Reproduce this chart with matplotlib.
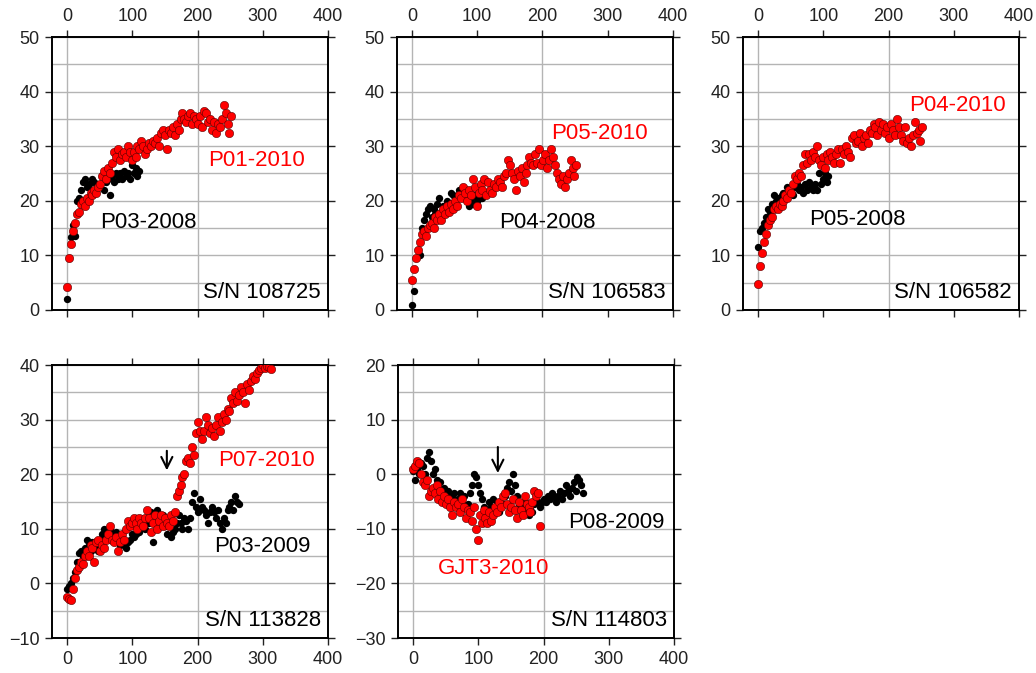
import numpy as np
import matplotlib.pyplot as plt
from matplotlib.ticker import MultipleLocator

plt.rcParams['font.family'] = ['Liberation Sans', 'DejaVu Sans']

# ---- S/N 108725 -------------------------------------------------------
p03_2008_day = np.arange(0, 112, 3)
p03_2008 = [2.0, 9.5, 13.3, 15.5, 13.5, 20.0, 20.5, 22.0, 23.5, 24.0,
            22.5, 23.0, 22.0, 24.0, 23.5, 21.5, 22.5, 23.0, 24.5, 22.0,
            23.5, 24.0, 21.0, 24.5, 23.5, 25.0, 24.0, 25.0, 24.0, 25.5,
            24.5, 25.0, 24.0, 26.5, 25.0, 26.0, 24.5, 25.5]
p01_2010_day = np.arange(0, 253, 3)
p01_2010 = [4.2, 9.5, 12.0, 14.5, 16.0, 17.5, 18.0, 19.5, 20.0, 19.0,
            20.5, 20.0, 21.5, 21.0, 22.0, 21.5, 22.5, 23.0, 24.5, 25.5,
            24.0, 26.0, 25.0, 27.0, 29.0, 28.0, 29.5, 27.5, 28.5, 29.0,
            28.0, 30.0, 29.0, 27.5, 29.0, 28.0, 30.0, 29.5, 31.0, 30.0,
            28.5, 29.5, 30.5, 30.0, 31.0, 30.5, 31.5, 30.0, 32.5, 33.0,
            32.0, 29.5, 33.0, 32.5, 33.5, 32.0, 34.0, 33.0, 35.0, 36.0,
            35.0, 34.5, 35.5, 36.0, 34.0, 35.5, 35.0, 34.0, 35.5, 33.5,
            36.5, 36.0, 34.5, 35.0, 33.0, 34.5, 32.5, 34.0, 33.5, 35.0,
            37.5, 36.0, 34.0, 32.5, 35.5]

# ---- S/N 106583 -------------------------------------------------------
p04_2008_day = np.arange(0, 109, 3)
p04_2008 = [1.0, 3.5, 9.5, 11.0, 10.0, 15.0, 16.5, 17.5, 18.5, 19.0,
            17.0, 18.5, 17.5, 19.5, 20.5, 18.0, 19.0, 18.5, 20.0, 19.5,
            21.5, 21.0, 19.5, 20.5, 22.0, 21.0, 22.5, 21.0, 22.0, 19.0,
            20.5, 19.5, 21.0, 20.0, 21.0, 20.5, 20.5]
p05_2010_day = np.arange(0, 253, 3)
p05_2010 = [5.5, 7.5, 9.5, 11.0, 12.5, 14.0, 14.5, 13.5, 15.0, 15.5,
            16.0, 15.0, 17.0, 16.5, 17.5, 16.5, 18.5, 17.5, 19.0, 18.0,
            19.5, 18.5, 20.0, 19.0, 21.0, 20.5, 22.5, 21.5, 20.0, 22.0,
            21.0, 24.0, 22.5, 19.0, 21.5, 23.0, 22.0, 24.0, 21.0, 23.5,
            22.0, 21.5, 23.0, 22.5, 24.0, 23.5, 22.5, 24.5, 25.0, 27.5,
            26.5, 25.0, 24.0, 22.0, 25.5, 24.5, 26.0, 23.5, 25.0, 26.5,
            28.0, 27.0, 26.5, 28.5, 27.0, 29.5, 26.5, 27.5, 28.5, 26.0,
            27.5, 29.5, 28.0, 26.5, 25.0, 24.0, 23.0, 24.5, 22.5, 24.0,
            25.0, 27.5, 26.0, 24.5, 26.5]

# ---- S/N 106582 -------------------------------------------------------
p05_2008_day = np.arange(0, 109, 3)
p05_2008 = [11.5, 14.5, 15.0, 16.0, 17.0, 18.5, 18.0, 19.5, 21.0, 20.0,
            20.5, 20.0, 21.0, 21.5, 20.5, 22.5, 21.5, 22.0, 21.0, 22.5,
            23.0, 22.0, 22.5, 21.5, 23.0, 22.0, 23.5, 22.5, 22.0, 23.0,
            22.0, 25.0, 23.0, 24.0, 25.0, 23.5, 24.5]
p04_2010_day = np.arange(0, 253, 3)
p04_2010 = [4.8, 8.0, 10.5, 12.5, 14.0, 15.5, 16.5, 17.0, 18.5, 19.0,
            18.5, 19.5, 19.0, 20.0, 21.0, 20.5, 22.0, 21.5, 23.0, 24.5,
            24.0, 25.0, 24.5, 26.5, 28.5, 27.0, 28.5, 27.5, 29.0, 28.0,
            30.0, 27.5, 26.5, 28.0, 26.0, 28.5, 27.5, 29.0, 28.0, 27.0,
            28.5, 29.5, 27.0, 29.5, 28.5, 30.0, 29.0, 28.0, 31.5, 32.0,
            30.5, 31.0, 32.5, 30.0, 31.5, 32.0, 30.5, 33.0, 32.5, 34.0,
            33.5, 32.0, 34.5, 33.0, 34.0, 32.5, 33.5, 31.5, 34.0, 33.0,
            32.0, 35.0, 33.5, 32.0, 31.0, 33.5, 30.5, 31.5, 30.0, 32.0,
            34.5, 32.5, 33.0, 31.0, 33.5]

# ---- S/N 113828 -------------------------------------------------------
p03_2009_day = np.arange(0, 265, 3)
p03_2009 = [-1.0, -0.5, 0.0, 1.0, 2.0, 4.0, 5.5, 6.0, 5.0, 6.5,
            8.0, 7.0, 6.0, 7.5, 6.5, 7.0, 6.0, 8.0, 9.0, 10.0,
            9.5, 8.5, 10.0, 9.0, 8.0, 9.5, 8.5, 7.0, 8.0, 7.0,
            6.5, 7.5, 8.0, 9.0, 8.5, 9.0, 10.0, 9.5, 10.5, 11.0,
            10.0, 12.0, 11.0, 13.0, 7.5, 12.0, 13.5, 12.0, 11.0, 12.5,
            10.5, 9.0, 10.5, 8.5, 9.5, 10.0, 11.0, 12.5, 11.0, 10.0,
            12.0, 11.5, 10.0, 12.0, 15.0, 16.5, 14.0, 13.0, 15.5, 14.0,
            13.5, 12.5, 11.0, 13.0, 14.0, 13.0, 12.0, 13.5, 11.0, 10.0,
            12.0, 11.0, 13.5, 14.0, 15.0, 13.5, 16.0, 15.0, 14.5]
p07_2010_day = np.arange(0, 313, 3)
p07_2010 = [-2.5, -2.8, -3.0, -1.0, 1.0, 2.5, 3.0, 4.0, 3.5, 5.0,
            6.0, 5.0, 7.0, 6.5, 4.0, 7.5, 8.0, 6.0, 7.0, 6.5,
            8.0, 9.0, 10.5, 8.0, 7.5, 8.5, 6.0, 7.5, 9.0, 8.0,
            10.0, 11.5, 10.5, 11.0, 12.0, 11.0, 10.0, 12.0, 11.0, 10.5,
            12.0, 13.5, 12.0, 9.5, 11.0, 12.5, 10.0, 11.5, 12.5, 10.5,
            12.0, 11.0, 10.5, 12.5, 11.5, 13.0, 16.0, 17.0, 18.0, 19.5,
            20.0, 22.5, 23.0, 22.0, 25.0, 23.5, 27.5, 29.5, 28.0, 26.5,
            28.0, 30.5, 29.0, 27.5, 28.5, 27.0, 29.0, 30.5, 28.0, 29.5,
            31.0, 30.0, 32.0, 31.5, 34.0, 33.0, 35.0, 33.5, 34.5, 36.0,
            35.0, 33.0, 36.5, 35.5, 37.0, 38.0, 37.5, 38.5, 39.0, 39.5,
            40.0, 39.5, 39.8, 39.6, 39.2]

# ---- S/N 114803 -------------------------------------------------------
p08_2009_day = np.arange(0, 262, 3)
p08_2009 = [0.5, -1.0, 1.0, 0.0, 2.0, 1.5, 0.0, 3.0, 4.0, 2.5,
            0.0, 1.0, -1.0, -2.0, -1.5, -3.0, -2.5, -4.0, -3.0, -5.0,
            -4.0, -3.5, -5.0, -4.5, -3.5, -5.0, -4.0, -6.0, -5.5, -3.5,
            -2.0, 0.0, -0.5, -2.0, -3.5, -4.5, -6.0, -7.0, -6.5, -5.0,
            -6.0, -4.5, -6.0, -5.0, -7.0, -6.0, -5.5, -4.0, -2.5, -1.5,
            -3.0, 0.0, -2.0, -4.0, -5.5, -6.0, -7.0, -5.0, -6.5, -7.5,
            -6.0, -7.0, -5.5, -4.0, -5.0, -6.0, -5.0, -4.5, -5.0, -4.0,
            -4.5, -3.5, -4.0, -5.0, -4.0, -3.0, -4.5, -3.5, -2.0, -3.0,
            -4.0, -2.5, -1.5, -3.0, -0.5, -1.0, -2.0, -3.5]
gjt3_2010_day = np.arange(0, 196, 3)
gjt3_2010 = [1.0, 1.5, 2.5, 2.0, 0.0, -1.5, -2.0, -1.0, -4.0, -3.0,
             -2.5, -3.5, -2.0, -4.5, -3.0, -5.0, -4.0, -5.5, -4.5, -6.0,
             -7.5, -5.0, -6.0, -5.5, -7.0, -4.5, -6.0, -8.0, -6.5, -7.0,
             -8.5, -6.0, -10.0, -12.0, -7.5, -9.0, -6.5, -8.0, -9.0, -7.0,
             -8.5, -7.5, -6.0, -7.0, -5.0, -6.0, -4.0, -3.5, -5.5, -7.0,
             -6.0, -4.5, -6.5, -8.0, -5.0, -6.5, -7.5, -4.0, -5.5, -6.0,
             -7.0, -5.0, -3.0, -4.0, -3.5, -9.5]

RED = '#ff0000'
GRID = '#b4b4b4'


def setup_axes(ax, ylim, top_labels):
    ax.set_xlim(-23, 400)
    ax.set_ylim(*ylim)
    ax.set_xticks([0, 100, 200, 300, 400])
    ax.yaxis.set_major_locator(MultipleLocator(10))
    ax.yaxis.set_minor_locator(MultipleLocator(5))
    ax.grid(axis='y', which='both', color=GRID, lw=1.0)
    for xv in (0, 200):
        ax.axvline(xv, color=GRID, lw=1.0, zorder=0.5)
    ax.set_axisbelow(True)
    ax.tick_params(which='major', direction='out', length=5, width=1,
                   top=True, bottom=True, left=True, right=True,
                   labeltop=top_labels, labelbottom=not top_labels,
                   labelsize=13, colors='#222222', pad=4)
    ax.tick_params(which='minor', length=0)
    for s in ax.spines.values():
        s.set_linewidth(1.4)


def draw(ax, bx, by, rx, ry):
    ax.scatter(bx, by, s=28, c='black', lw=0, zorder=2)
    ax.scatter(rx, ry, s=36, c=RED, edgecolors='#5a0000', lw=0.4,
               zorder=3)


fig = plt.figure(figsize=(10.36, 6.73), dpi=100)
w, h = 0.2664, 0.4056
ax1 = fig.add_axes([0.0502, 0.5394, w, h])
ax2 = fig.add_axes([0.3832, 0.5394, w, h])
ax3 = fig.add_axes([0.7172, 0.5394, w, h])
ax4 = fig.add_axes([0.0502, 0.0520, w, h])
ax5 = fig.add_axes([0.3842, 0.0520, w, h])

for ax in (ax1, ax2, ax3):
    setup_axes(ax, (0, 50), True)
setup_axes(ax4, (-10, 40), False)
setup_axes(ax5, (-30, 20), False)

draw(ax1, p03_2008_day, p03_2008, p01_2010_day, p01_2010)
draw(ax2, p04_2008_day, p04_2008, p05_2010_day, p05_2010)
draw(ax3, p05_2008_day, p05_2008, p04_2010_day, p04_2010)
draw(ax4, p03_2009_day, p03_2009, p07_2010_day, p07_2010)
draw(ax5, p08_2009_day, p08_2009, gjt3_2010_day, gjt3_2010)

lab = dict(fontsize=16, ha='center', va='center', zorder=5)
ax1.text(291, 27.3, 'P01-2010', color=RED, **lab)
ax1.text(124, 16.1, 'P03-2008', color='black', **lab)
ax2.text(288, 32.4, 'P05-2010', color=RED, **lab)
ax2.text(208, 16.1, 'P04-2008', color='black', **lab)
ax3.text(305, 37.5, 'P04-2010', color=RED, **lab)
ax3.text(153, 16.6, 'P05-2008', color='black', **lab)
ax4.text(306, 22.6, 'P07-2010', color=RED, **lab)
ax4.text(299, 6.7, 'P03-2009', color='black', **lab)
ax5.text(311, -8.8, 'P08-2009', color='black', **lab)
ax5.text(124, -17.2, 'GJT3-2010', color=RED, **lab)

sn = [(ax1, 'S/N 108725'), (ax2, 'S/N 106583'), (ax3, 'S/N 106582'),
      (ax4, 'S/N 113828'), (ax5, 'S/N 114803')]
for ax, t in sn:
    ax.text(0.975, 0.025, t, transform=ax.transAxes, fontsize=16,
            ha='right', va='bottom', zorder=5)

arrow = dict(arrowstyle='->', color='black', lw=1.5, mutation_scale=20)
ax4.annotate('', xy=(153, 20.2), xytext=(153, 24.8), arrowprops=arrow)
ax5.annotate('', xy=(130, -0.3), xytext=(130, 5.5), arrowprops=arrow)

fig.savefig('out.png', dpi=100)
